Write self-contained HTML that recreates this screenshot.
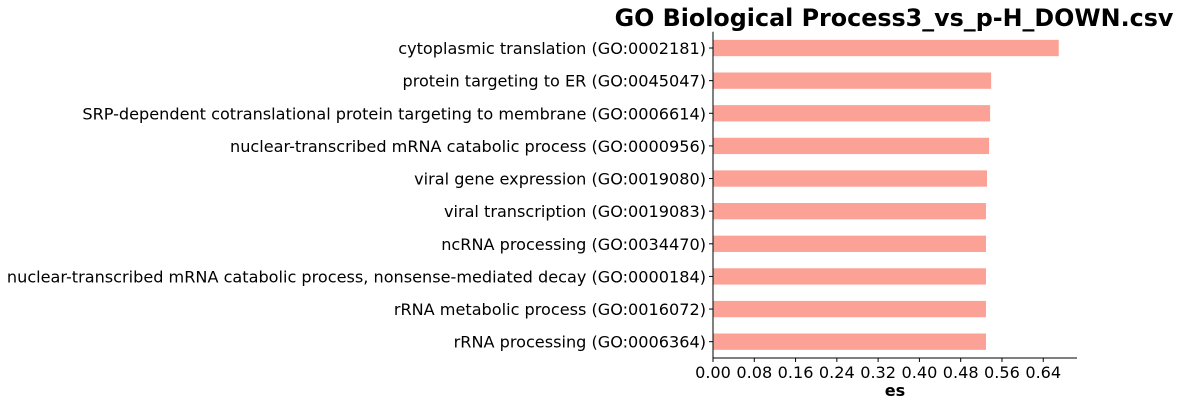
<!DOCTYPE html>
<html><head><meta charset="utf-8"><style>
body{margin:0;background:#fff;}
svg{display:block;font-family:"DejaVu Sans","Liberation Sans",sans-serif;}
</style></head><body>
<svg id="chart" width="1183" height="406"></svg>
<script>
const categories=["cytoplasmic translation (GO:0002181)","protein targeting to ER (GO:0045047)","SRP-dependent cotranslational protein targeting to membrane (GO:0006614)","nuclear-transcribed mRNA catabolic process (GO:0000956)","viral gene expression (GO:0019080)","viral transcription (GO:0019083)","ncRNA processing (GO:0034470)","nuclear-transcribed mRNA catabolic process, nonsense-mediated decay (GO:0000184)","rRNA metabolic process (GO:0016072)","rRNA processing (GO:0006364)"];
const esValues=[0.670,0.539,0.537,0.535,0.531,0.529,0.529,0.529,0.529,0.529];
const tickLabels=["0.00","0.08","0.16","0.24","0.32","0.40","0.48","0.56","0.64"];
const NS="http://www.w3.org/2000/svg";
const svg=document.getElementById('chart');
const x0=713,x1=1077,xmax=0.7054,yTop=31.7,yBot=358;
const xs=v=>x0+v/xmax*(x1-x0);
const step=(yBot-yTop)/categories.length;
const yc=i=>yTop+step*(i+0.5);
function mk(t,a,txt){const e=document.createElementNS(NS,t);for(const k in a)e.setAttribute(k,a[k]);if(txt!==undefined)e.textContent=txt;svg.appendChild(e);return e;}
categories.forEach((c,i)=>{
 const r=mk('rect',{x:x0,y:yc(i)-step*0.25,width:xs(esValues[i])-x0,height:step*0.5,fill:'#fba195'});
 
 
 const l=mk('line',{x1:x0-4,x2:x0,y1:yc(i),y2:yc(i),stroke:'#000','stroke-width':1});
 
 
 const t=mk('text',{x:x0-7,y:yc(i)+6,'text-anchor':'end','font-size':16.1,fill:'#000'},c);
 
 
});
tickLabels.forEach(s=>{
 const v=parseFloat(s),x=xs(v);
 const l=mk('line',{x1:x,x2:x,y1:yBot,y2:yBot+4,stroke:'#000','stroke-width':1});
 
 
 const t=mk('text',{x:x,y:yBot+20,'text-anchor':'middle','font-size':16.1,fill:'#000'},s);
 
 
});
const ls=mk('line',{x1:x0,x2:x0,y1:yTop,y2:yBot,stroke:'#000','stroke-width':1});


const bs=mk('line',{x1:x0,x2:x1,y1:yBot,y2:yBot,stroke:'#000','stroke-width':1});


const xl=mk('text',{x:(x0+x1)/2,y:396,'text-anchor':'middle','font-size':16.1,'font-weight':'bold'},'es');


const ti=mk('text',{x:(x0+x1)/2-1,y:26,'text-anchor':'middle','font-size':23.8,'font-weight':'bold'},'GO Biological Process3_vs_p-H_DOWN.csv');


</script>
</body></html>
